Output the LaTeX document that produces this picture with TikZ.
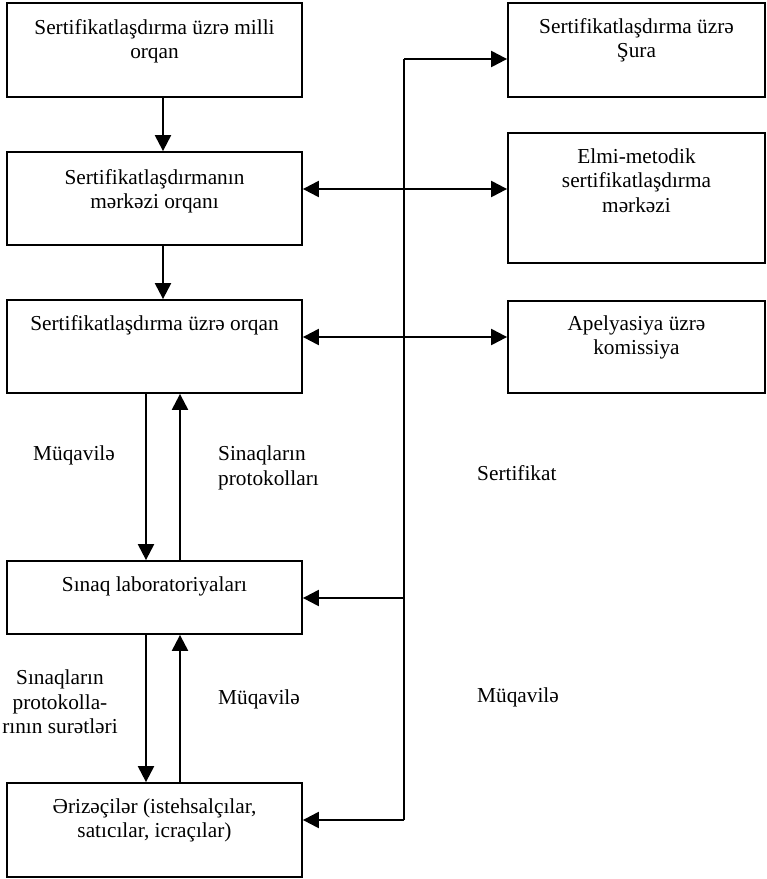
\documentclass[tikz,border=0pt]{standalone}
\usepackage{fontspec}
\setmainfont{Liberation Serif}[Ligatures=NoCommon]
\usetikzlibrary{arrows.meta}
\tikzset{
  box/.style={draw, line width=1.8pt, inner sep=0pt, rectangle},
  boxtext/.style={anchor=north, align=center, inner sep=0pt},
  lbl/.style={align=center, inner sep=0pt},
  arr/.style={line width=2.2pt, -{Triangle[length=16pt,width=16pt]}},
  darr/.style={line width=2.2pt, {Triangle[length=16pt,width=16pt]}-{Triangle[length=16pt,width=16pt]}},
  plain/.style={line width=2.2pt}
}
\begin{document}
\begin{tikzpicture}[x=1pt,y=-1pt,font=\fontsize{21.3}{24.5}\selectfont]
\useasboundingbox (0,0) rectangle (767,879);
% left column boxes
\node[box, minimum width=295pt, minimum height=94pt] (b1) at (154.5,50) {};
\node[box, minimum width=295pt, minimum height=93pt] (b2) at (154.5,198.5) {};
\node[box, minimum width=295pt, minimum height=93pt] (b3) at (154.5,346.5) {};
\node[box, minimum width=295pt, minimum height=73pt] (b4) at (154.5,597.5) {};
\node[box, minimum width=295pt, minimum height=94pt] (b5) at (154.5,830) {};
% right column boxes
\node[box, minimum width=257pt, minimum height=94pt] (b6) at (636.5,50) {};
\node[box, minimum width=257pt, minimum height=130pt] (b7) at (636.5,198) {};
\node[box, minimum width=257pt, minimum height=92pt] (b8) at (636.5,347) {};
% box texts
\node[boxtext] (t1) at ([yshift=-17pt]b1.north) {Sertifikatlaşdırma üzrə milli\\orqan};
\node[boxtext] (t2) at ([yshift=-18pt]b2.north) {Sertifikatlaşdırmanın\\mərkəzi orqanı};
\node[boxtext] (t3) at ([yshift=-16pt]b3.north) {Sertifikatlaşdırma üzrə orqan};
\node[boxtext] (t4) at ([yshift=-16pt]b4.north) {Sınaq laboratoriyaları};
\node[boxtext] (t5) at ([yshift=-16pt]b5.north) {Ərizəçilər (istehsalçılar,\\satıcılar, icraçılar)};
\node[boxtext] (t6) at ([yshift=-16pt]b6.north) {Sertifikatlaşdırma üzrə\\Şura};
\node[boxtext] (t7) at ([yshift=-16pt]b7.north) {Elmi-metodik\\sertifikatlaşdırma\\mərkəzi};
\node[boxtext] (t8) at ([yshift=-15pt]b8.north) {Apelyasiya üzrə\\komissiya};
% helper coordinates
\coordinate (xa) at (163,0);
\coordinate (xb) at (146,0);
\coordinate (xc) at (180,0);
\coordinate (j1) at (404,59);
\coordinate (h2) at (404,189);
\coordinate (h3) at (404,337);
\coordinate (j4) at (404,598);
\coordinate (j5) at (404,820);
% vertical arrows, left column
\draw[arr] (b1.south -| xa) -- (b2.north -| xa);
\draw[arr] (b2.south -| xa) -- (b3.north -| xa);
\draw[arr] (b3.south -| xb) -- (b4.north -| xb);
\draw[arr] (b4.north -| xc) -- (b3.south -| xc);
\draw[arr] (b4.south -| xb) -- (b5.north -| xb);
\draw[arr] (b5.north -| xc) -- (b4.south -| xc);
% long vertical line and branches
\draw[plain] (j5) -- (j1);
\draw[arr] (j1) -- (j1 -| b6.west);
\draw[arr] (j4) -- (j4 -| b4.east);
\draw[arr] (j5) -- (j5 -| b5.east);
% double arrows
\draw[darr] (h2 -| b2.east) -- (h2 -| b7.west);
\draw[darr] (h3 -| b3.east) -- (h3 -| b8.west);
% labels
\node[lbl, anchor=north west] (l1) at (33,446) {Müqavilə};
\node[lbl, anchor=north west, align=left] (l2) at (218,446) {Sinaqların\\protokolları};
\node[lbl, anchor=north west] (l3) at (477,465) {Sertifikat};
\node[lbl, anchor=north] (l4) at (60,670) {Sınaqların\\protokolla-\\rının surətləri};
\node[lbl, anchor=north west] (l5) at (218,690) {Müqavilə};
\node[lbl, anchor=north west] (l6) at (477,688) {Müqavilə};
\end{tikzpicture}
\end{document}
